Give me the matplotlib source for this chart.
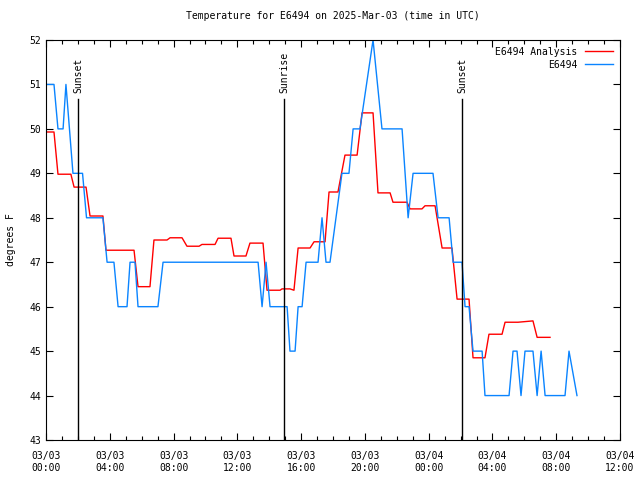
import numpy as np
import matplotlib
matplotlib.use("Agg")
import matplotlib.pyplot as plt
from matplotlib.ticker import MultipleLocator
from datetime import datetime, timedelta

plt.rcParams['font.family'] = ['DejaVu Sans Mono']
plt.rcParams['font.size'] = 7

# hours since 2025-03-03 00:00 UTC, temperature in F
obs_hours = [0, 0.5, 0.75, 1.07, 1.25, 1.69, 2.29, 2.54, 3.57, 3.83, 4.26, 4.52,
             5.08, 5.27, 5.58, 5.77, 7.02, 7.34, 13.30, 13.55, 13.80, 14.05,
             15.12, 15.30, 15.62, 15.81, 16.06, 16.31, 17.06, 17.31, 17.56,
             17.81, 18.56, 19.0, 19.26, 19.69, 20.51, 21.07, 22.33, 22.71,
             23.02, 24.27, 24.59, 25.28, 25.53, 26.09, 26.28, 26.53, 26.78,
             27.35, 27.53, 29.04, 29.29, 29.54, 29.79, 30.04, 30.54, 30.80,
             31.05, 31.30, 32.55, 32.80, 33.30]
obs_temp = [51, 51, 50, 50, 51, 49, 49, 48, 48, 47, 47, 46,
            46, 47, 47, 46, 46, 47, 47, 46, 47, 46,
            46, 45, 45, 46, 46, 47, 47, 48, 47,
            47, 49, 49, 50, 50, 52, 50, 50, 48,
            49, 49, 48, 48, 47, 47, 46, 46, 45,
            45, 44, 44, 45, 45, 44, 45, 45, 44,
            45, 44, 44, 45, 44]

ana_hours = [0, 0.5, 0.75, 1.56, 1.76, 2.51, 2.76, 3.57, 3.76, 5.52, 5.77,
             6.52, 6.77, 7.59, 7.78, 8.53, 8.84, 9.60, 9.78, 10.60, 10.79,
             11.60, 11.79, 12.54, 12.79, 13.61, 13.86, 14.68, 14.8, 15.3,
             15.55, 15.81, 16.56, 16.81, 17.50, 17.75, 18.31, 18.75, 19.51,
             19.82, 20.51, 20.82, 21.58, 21.76, 22.64, 22.83, 23.58, 23.77,
             24.40, 24.84, 25.46, 25.78, 26.53, 26.78, 27.53, 27.78, 28.60,
             28.79, 29.60, 30.54, 30.80, 31.61]
ana_temp = [49.93, 49.93, 48.98, 48.98, 48.69, 48.69, 48.04, 48.04, 47.27, 47.27, 46.45,
            46.45, 47.5, 47.5, 47.55, 47.55, 47.36, 47.36, 47.4, 47.4, 47.54,
            47.54, 47.14, 47.14, 47.43, 47.43, 46.37, 46.37, 46.4, 46.4,
            46.37, 47.32, 47.32, 47.46, 47.46, 48.58, 48.58, 49.41, 49.41,
            50.36, 50.36, 48.56, 48.56, 48.35, 48.35, 48.2, 48.2, 48.27,
            48.27, 47.32, 47.32, 46.17, 46.17, 44.85, 44.85, 45.38, 45.38,
            45.65, 45.65, 45.68, 45.31, 45.31]

sun_hours = [2.0, 14.93, 26.09]
sun_labels = ["Sunset", "Sunrise", "Sunset"]

start = datetime(2025, 3, 3, 0, 0)
tick_hours = list(range(0, 37, 4))
tick_labels = [(start + timedelta(hours=h)).strftime("%m/%d\n%H:%M") for h in tick_hours]

fig = plt.figure(figsize=(6.4, 4.8), dpi=100)
ax = fig.add_axes([0.0719, 0.0833, 0.8969, 0.8334])

ax.plot(ana_hours, ana_temp, color='#ff0000', lw=1.0, label='E6494 Analysis')
ax.plot(obs_hours, obs_temp, color='#0a84ff', lw=1.0, label='E6494')

for h, lab in zip(sun_hours, sun_labels):
    ax.plot([h, h], [43, 50.67], color='black', lw=1.0)
    ax.text(h, 50.8, lab, rotation=90, ha='center', va='bottom', fontsize=7)

ax.set_xlim(0, 36)
ax.set_ylim(43, 52)
ax.set_xticks(tick_hours)
ax.set_xticklabels(tick_labels)
ax.xaxis.set_minor_locator(MultipleLocator(1))
ax.yaxis.set_major_locator(MultipleLocator(1))
ax.tick_params(which='both', direction='in', top=True, right=True, width=0.8)
ax.tick_params(which='major', length=5)
ax.tick_params(which='minor', length=3)
ax.tick_params(axis='x', pad=8)
ax.set_ylabel('degrees F', labelpad=10)
ax.set_title('Temperature for E6494 on 2025-Mar-03 (time in UTC)', fontsize=7, pad=15)

ax.legend(loc='upper right', frameon=False, markerfirst=False, handlelength=2.9,
          borderaxespad=0.3, labelspacing=0.3, fontsize=7)

fig.savefig('out.png', dpi=100)
